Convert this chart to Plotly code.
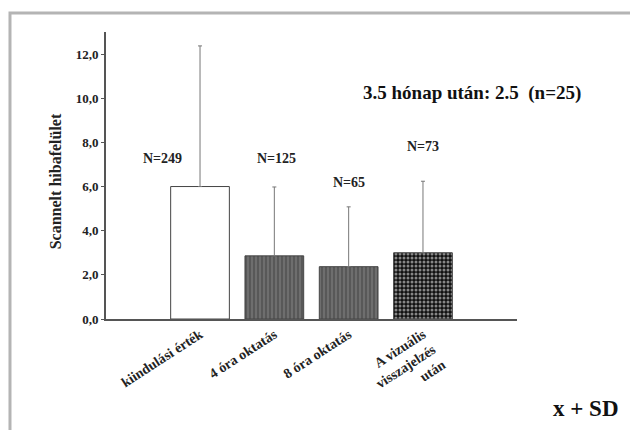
import plotly.graph_objects as go

categories = ["kiindulási érték", "4 óra oktatás", "8 óra oktatás", "A vizuális<br>visszajelzés<br>után"]
means = [6.0, 2.86, 2.37, 3.0]
sds = [6.37, 3.12, 2.71, 3.24]
n_labels = ["N=249", "N=125", "N=65", "N=73"]
n_label_x = [-0.51, 1.03, 2.0, 3.0]
n_label_y = [7.26, 7.26, 6.17, 7.8]
ytick_vals = [0, 2, 4, 6, 8, 10, 12]
ytick_text = ["0,0", "2,0", "4,0", "6,0", "8,0", "10,0", "12,0"]

FONT = "Liberation Serif, DejaVu Serif, serif"
xs = list(range(len(categories)))

fig = go.Figure()

styles = [
    dict(color="white", pattern=dict(shape="")),
    dict(color="#585858", pattern=dict(shape="|", fgcolor="#b0b0b0", bgcolor="#585858", size=4, solidity=0.25)),
    dict(color="#585858", pattern=dict(shape="|", fgcolor="#b0b0b0", bgcolor="#585858", size=4, solidity=0.25)),
    dict(color="#111111", pattern=dict(shape=".", fgcolor="#ffffff", bgcolor="#111111", size=4, solidity=0.45)),
]

for i in xs:
    fig.add_trace(go.Bar(
        x=[xs[i]], y=[means[i]], width=0.79,
        marker=dict(color=styles[i]["color"], pattern=styles[i]["pattern"],
                    line=dict(color="#444444", width=1)),
        error_y=dict(type="data", symmetric=False, array=[sds[i]], arrayminus=[0],
                     color="#777777", thickness=1, width=2),
        showlegend=False, hoverinfo="skip",
    ))

for x, y, t in zip(n_label_x, n_label_y, n_labels):
    fig.add_annotation(x=x, y=y, text=t, showarrow=False, xanchor="center", yanchor="middle",
                       font=dict(family=FONT, size=14, color="#222", weight="bold"))

fig.add_annotation(xref="paper", yref="paper", x=0.89, y=0.788, text="3.5 hónap után: 2.5  (n=25)",
                   showarrow=False, xanchor="center", yanchor="middle",
                   font=dict(family=FONT, size=19, color="#111", weight="bold"))
fig.add_annotation(xref="paper", yref="paper", x=1.168, y=-0.312, text="x + SD",
                   showarrow=False, xanchor="center", yanchor="middle",
                   font=dict(family=FONT, size=23, color="#111", weight="bold"))
fig.add_annotation(xref="paper", yref="paper", x=-0.124, y=0.48, text="Scannelt hibafelület",
                   textangle=-90, showarrow=False, xanchor="center", yanchor="middle",
                   font=dict(family=FONT, size=16, color="#222", weight="bold"))

# outer grey frame
fig.add_shape(type="rect", xref="paper", yref="paper", x0=-0.2336, x1=1.6, y0=-0.6, y1=1.066,
              line=dict(color="#b4b4b4", width=3), layer="below")

# page body has an 8px margin, so the figure is 8px smaller and shifted
fig.update_layout(
    width=630, height=422,
    margin=dict(l=98, r=121, t=24, b=111),
    paper_bgcolor="white", plot_bgcolor="white",
    xaxis=dict(range=[-1.265, 4.265], tickvals=xs, ticktext=categories, tickangle=-33,
               showline=True, linecolor="#555555", linewidth=2, ticks="", showgrid=False,
               zeroline=False,
               tickfont=dict(family=FONT, size=14, color="#222", weight="bold")),
    yaxis=dict(range=[0, 13], tickvals=ytick_vals, ticktext=ytick_text,
               showline=True, linecolor="#555555", linewidth=2, ticks="outside", ticklen=3,
               tickcolor="#555555", showgrid=False, zeroline=False,
               tickfont=dict(family=FONT, size=13, color="#222", weight="bold")),
)

fig.write_html("out.html")
